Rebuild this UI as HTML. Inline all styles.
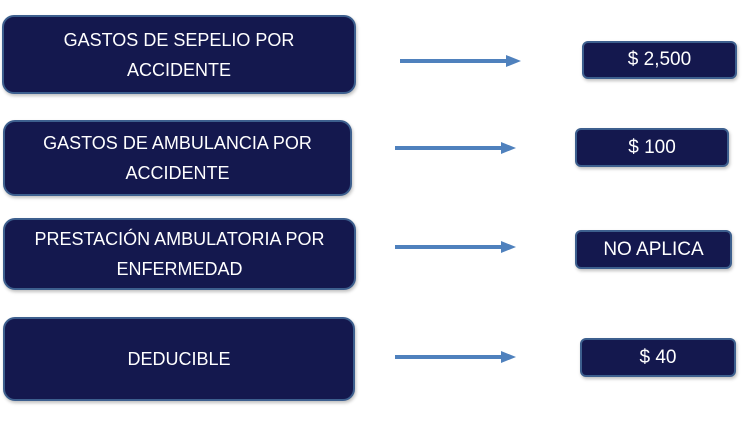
<!DOCTYPE html>
<html><head><style>
body{margin:0;width:747px;height:421px;background:#fff;position:relative;overflow:hidden;font-family:"Liberation Sans",sans-serif;}
.b{position:absolute;box-sizing:border-box;background:#14184e;border:2.5px solid #3d5f8e;border-radius:12px;color:#fff;display:flex;align-items:center;justify-content:center;text-align:center;font-size:18px;line-height:30px;box-shadow:1px 2px 3px rgba(0,0,0,.25);}
.s{border-radius:6px;font-size:19px;}
svg{position:absolute;left:0;top:0;}
</style></head><body>
<div class="b" style="left:2px;top:15px;width:354px;height:79px">GASTOS DE SEPELIO POR<br>ACCIDENTE</div>
<div class="b" style="left:3px;top:120px;width:349px;height:76px">GASTOS DE AMBULANCIA POR<br>ACCIDENTE</div>
<div class="b" style="left:3px;top:218px;width:353px;height:72px">PRESTACIÓN AMBULATORIA POR<br>ENFERMEDAD</div>
<div class="b" style="left:3px;top:317px;width:352px;height:84px">DEDUCIBLE</div>
<div class="b s" style="left:582px;top:41px;width:155px;height:38px">$ 2,500</div>
<div class="b s" style="left:575px;top:128px;width:154px;height:39px">$ 100</div>
<div class="b s" style="left:575px;top:230px;width:157px;height:39px">NO APLICA</div>
<div class="b s" style="left:580px;top:338px;width:156px;height:39px">$ 40</div>
<svg width="747" height="421">
<g fill="#4f81bd" stroke="none">
<rect x="400" y="59" width="108" height="4"/><polygon points="506,55 521,61 506,67"/>
<rect x="395" y="146" width="108" height="4"/><polygon points="501,142 516,148 501,154"/>
<rect x="395" y="245" width="108" height="4"/><polygon points="501,241 516,247 501,253"/>
<rect x="395" y="355" width="108" height="4"/><polygon points="501,351 516,357 501,363"/>
</g></svg>
</body></html>
